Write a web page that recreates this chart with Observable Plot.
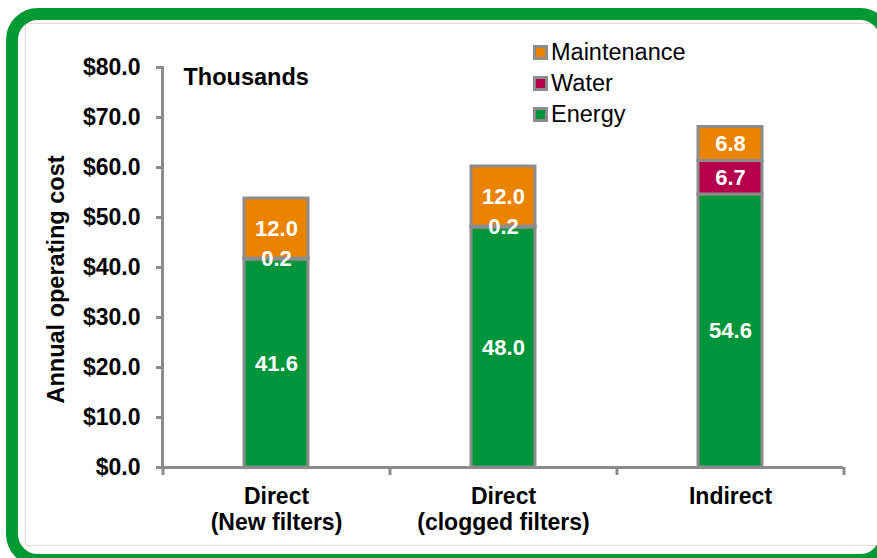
<!DOCTYPE html>
<html><head><meta charset="utf-8">
<script src="https://cdn.jsdelivr.net/npm/d3@7"></script>
<script src="https://cdn.jsdelivr.net/npm/@observablehq/plot@0.6"></script>
<style>
body{margin:0;background:#fff;}
#wrap{position:relative;width:877px;height:558px;overflow:hidden;background:#fff;font-family:"Liberation Sans",Arial,sans-serif;}
#frame{position:absolute;left:6px;top:8px;width:886px;height:558px;border:12px solid #009933;border-radius:32px;box-sizing:border-box;}
#inner{position:absolute;left:25px;top:23px;width:860px;height:523px;border:1px solid #f2d4d4;box-sizing:border-box;}
#chart{position:absolute;left:0;top:0;}
#legend{position:absolute;left:533px;top:37px;}
.li{display:flex;align-items:center;height:31px;font-size:23.5px;color:#000;}
.sw{width:9px;height:9px;border:3px solid #8c8c8c;margin-right:3px;}
</style>
</head><body>
<div id="wrap">
  <div id="inner"></div>
  <div id="chart"></div>
  <div id="legend"></div>
  <div id="frame"></div>
</div>
<script>
const categories = ["Direct\n(New filters)", "Direct\n(clogged filters)", "Indirect"];
const series = ["Energy", "Water", "Maintenance"];
const colors = ["#00953a", "#b5004b", "#e98300"];
const energy = [41.6, 48.0, 54.6];
const water = [0.2, 0.2, 6.7];
const maintenance = [12.0, 12.0, 6.8];
const yTicks = [0, 10, 20, 30, 40, 50, 60, 70, 80];
const legendOrder = ["Maintenance", "Water", "Energy"];

const valuesBySeries = {Energy: energy, Water: water, Maintenance: maintenance};
const data = categories.flatMap((c, i) => series.map(s => ({category: c, series: s, value: valuesBySeries[s][i]})));

const gray = "#8c8c8c";
const font = "'Liberation Sans', Arial, sans-serif";

const chart = Plot.plot({
  width: 877, height: 558,
  marginLeft: 162, marginRight: 34, marginTop: 67, marginBottom: 91,
  style: {fontFamily: font, background: "transparent", overflow: "visible", color: "#000"},
  x: {domain: categories, paddingInner: 0.72, paddingOuter: 0.36, label: null},
  y: {domain: [0, 80], label: null},
  color: {domain: series, range: colors},
  marks: [
    Plot.barY(data, {x: "category", y: "value", fill: "series", z: "series", order: series, stroke: gray, strokeWidth: 3}),
    Plot.text(data, Plot.stackY({x: "category", y: "value", z: "series", order: series, text: d => d.value.toFixed(1), fill: "white", fontWeight: "bold", fontSize: 22})),
    Plot.ruleY([0], {stroke: gray, strokeWidth: 3}),
    Plot.frame({anchor: "left", stroke: gray, strokeWidth: 3}),
    Plot.ruleX(categories, {x: d => d, dx: -113.5, y1: 0, y2: 0, insetBottom: -8, stroke: gray, strokeWidth: 3}),
    Plot.ruleX([categories[categories.length - 1]], {x: d => d, dx: 113.5, y1: 0, y2: 0, insetBottom: -8, stroke: gray, strokeWidth: 3}),
    Plot.axisY({ticks: yTicks, tickFormat: d => "$" + d.toFixed(1), tickSize: 6, tickPadding: 16, fontSize: 23, fontWeight: "bold", stroke: gray, strokeWidth: 3, fill: "#000", label: null}),
    Plot.axisX({tickSize: 0, tickPadding: 18, fontSize: 23, fontWeight: "bold", lineHeight: 1.13, fill: "#000", label: null}),
    Plot.text(["Thousands"], {frameAnchor: "top-left", dx: 21, dy: 1, textAnchor: "start", lineAnchor: "top", fontWeight: "bold", fontSize: 23.5, fill: "#000"}),
    Plot.text(["Annual operating cost"], {frameAnchor: "left", textAnchor: "middle", rotate: -90, dx: -106, dy: 12, fontWeight: "bold", fontSize: 23.5, fill: "#000"})
  ]
});
document.getElementById("chart").append(chart);

const legend = document.getElementById("legend");
for (const s of legendOrder) {
  const row = document.createElement("div");
  row.className = "li";
  const sw = document.createElement("span");
  sw.className = "sw";
  sw.style.background = colors[series.indexOf(s)];
  const t = document.createElement("span");
  t.textContent = s;
  row.append(sw, t);
  legend.append(row);
}
</script>
</body></html>
